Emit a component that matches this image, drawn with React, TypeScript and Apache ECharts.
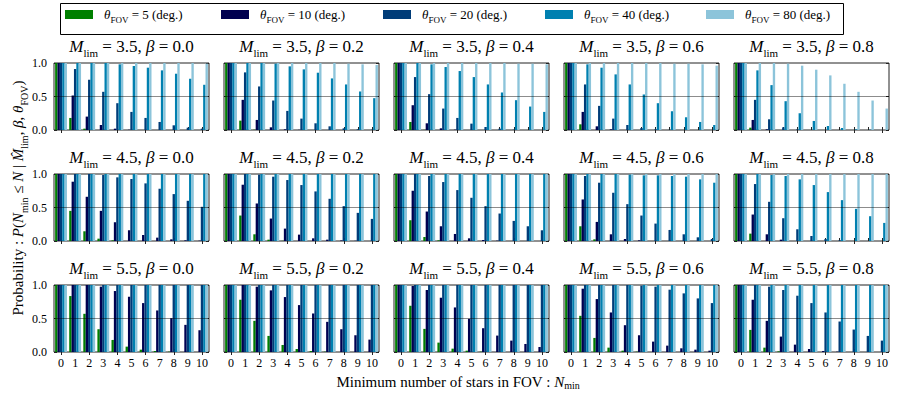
import React, { useEffect, useRef } from "react";
import * as echarts from "echarts";

const categories = ["0", "1", "2", "3", "4", "5", "6", "7", "8", "9", "10"];
const fovValues = [5, 10, 20, 40, 80];
const seriesNames = ["θFOV = 5 (deg.)", "θFOV = 10 (deg.)", "θFOV = 20 (deg.)", "θFOV = 40 (deg.)", "θFOV = 80 (deg.)"];
const seriesColors = ["#008000", "#000050", "#003c78", "#0080b0", "#8cc4da"];
const mLimValues = ["3.5", "4.5", "5.5"];
const betaValues = ["0.0", "0.2", "0.4", "0.6", "0.8"];
const yTickLabels = ["0.0", "0.5", "1.0"];

// rows: theta 5, 10, 20, 40, 80 ; columns: N_min 0..10
const m35b00 = [
  [1, 0.18, 0.02, 0, 0, 0, 0, 0, 0, 0, 0],
  [1, 0.515, 0.2, 0.075, 0.02, 0.005, 0, 0, 0, 0, 0],
  [1, 0.91, 0.75, 0.57, 0.4, 0.27, 0.18, 0.12, 0.07, 0.035, 0.02],
  [1, 1, 1, 1, 0.98, 0.955, 0.93, 0.89, 0.84, 0.765, 0.675],
  [1, 1, 1, 1, 1, 1, 1, 1, 1, 1, 0.99],
];
const m35b02 = [
  [1, 0.14, 0.005, 0, 0, 0, 0, 0, 0, 0, 0],
  [1, 0.45, 0.15, 0.04, 0.01, 0.003, 0, 0, 0, 0, 0],
  [1, 0.86, 0.65, 0.44, 0.285, 0.17, 0.1, 0.055, 0.025, 0.01, 0.005],
  [1, 1, 1, 0.99, 0.95, 0.905, 0.855, 0.77, 0.68, 0.575, 0.475],
  [1, 1, 1, 1, 1, 1, 1, 1, 0.99, 0.98, 0.97],
];
const m35b04 = [
  [1, 0.12, 0.003, 0, 0, 0, 0, 0, 0, 0, 0],
  [1, 0.37, 0.1, 0.025, 0.005, 0, 0, 0, 0, 0, 0],
  [1, 0.79, 0.535, 0.32, 0.18, 0.095, 0.045, 0.02, 0.005, 0, 0],
  [1, 1, 0.98, 0.94, 0.88, 0.79, 0.68, 0.56, 0.445, 0.35, 0.27],
  [1, 1, 1, 1, 1, 1, 1, 1, 0.99, 0.99, 0.98],
];
const m35b06 = [
  [1, 0.085, 0, 0, 0, 0, 0, 0, 0, 0, 0],
  [1, 0.27, 0.055, 0.01, 0, 0, 0, 0, 0, 0, 0],
  [1, 0.68, 0.36, 0.17, 0.075, 0.03, 0.01, 0.003, 0, 0, 0],
  [1, 0.98, 0.93, 0.83, 0.68, 0.53, 0.4, 0.28, 0.19, 0.12, 0.075],
  [1, 1, 1, 1, 1, 1, 1, 0.99, 0.99, 0.98, 0.96],
];
const m35b08 = [
  [1, 0.035, 0, 0, 0, 0, 0, 0, 0, 0, 0],
  [1, 0.15, 0.01, 0, 0, 0, 0, 0, 0, 0, 0],
  [1, 0.45, 0.16, 0.04, 0.008, 0, 0, 0, 0, 0, 0],
  [1, 0.89, 0.67, 0.43, 0.25, 0.135, 0.06, 0.03, 0.01, 0.005, 0],
  [1, 1, 1, 0.99, 0.96, 0.9, 0.815, 0.69, 0.57, 0.44, 0.32],
];
const m45b00 = [
  [1, 0.45, 0.145, 0.035, 0.01, 0, 0, 0, 0, 0, 0],
  [1, 0.885, 0.66, 0.45, 0.28, 0.16, 0.09, 0.05, 0.025, 0.01, 0.005],
  [1, 1, 1, 0.985, 0.95, 0.925, 0.86, 0.78, 0.7, 0.6, 0.51],
  [1, 1, 1, 1, 1, 1, 1, 1, 1, 1, 1],
  [1, 1, 1, 1, 1, 1, 1, 1, 1, 1, 1],
];
const m45b02 = [
  [1, 0.38, 0.1, 0.02, 0.003, 0, 0, 0, 0, 0, 0],
  [1, 0.84, 0.56, 0.335, 0.185, 0.095, 0.04, 0.02, 0.008, 0.003, 0],
  [1, 1, 0.99, 0.96, 0.91, 0.835, 0.74, 0.63, 0.52, 0.42, 0.33],
  [1, 1, 1, 1, 1, 1, 1, 1, 1, 1, 1],
  [1, 1, 1, 1, 1, 1, 1, 1, 1, 1, 1],
];
const m45b04 = [
  [1, 0.31, 0.06, 0.01, 0, 0, 0, 0, 0, 0, 0],
  [1, 0.75, 0.44, 0.22, 0.105, 0.04, 0.015, 0.005, 0, 0, 0],
  [1, 1, 0.97, 0.88, 0.76, 0.645, 0.52, 0.41, 0.3, 0.22, 0.16],
  [1, 1, 1, 1, 1, 1, 1, 1, 1, 1, 1],
  [1, 1, 1, 1, 1, 1, 1, 1, 1, 1, 1],
];
const m45b06 = [
  [1, 0.22, 0.025, 0, 0, 0, 0, 0, 0, 0, 0],
  [1, 0.62, 0.285, 0.1, 0.03, 0.01, 0, 0, 0, 0, 0],
  [1, 0.97, 0.87, 0.72, 0.55, 0.38, 0.26, 0.165, 0.1, 0.055, 0.03],
  [1, 1, 1, 1, 0.99, 0.98, 0.98, 0.97, 0.96, 0.92, 0.87],
  [1, 1, 1, 1, 1, 1, 1, 1, 1, 1, 1],
];
const m45b08 = [
  [1, 0.11, 0, 0, 0, 0, 0, 0, 0, 0, 0],
  [1, 0.395, 0.1, 0.02, 0, 0, 0, 0, 0, 0, 0],
  [1, 0.85, 0.585, 0.34, 0.175, 0.075, 0.03, 0.01, 0, 0, 0],
  [1, 1, 0.985, 0.97, 0.92, 0.835, 0.73, 0.61, 0.48, 0.37, 0.27],
  [1, 1, 1, 1, 1, 1, 1, 1, 1, 1, 1],
];
const m55b00 = [
  [1, 0.835, 0.57, 0.34, 0.18, 0.08, 0.035, 0.015, 0.005, 0, 0],
  [1, 1, 1, 0.975, 0.91, 0.825, 0.73, 0.62, 0.505, 0.405, 0.325],
  [1, 1, 1, 1, 1, 1, 1, 1, 1, 1, 1],
  [1, 1, 1, 1, 1, 1, 1, 1, 1, 1, 1],
  [1, 1, 1, 1, 1, 1, 1, 1, 1, 1, 1],
];
const m55b02 = [
  [1, 0.78, 0.465, 0.24, 0.105, 0.045, 0.015, 0.005, 0, 0, 0],
  [1, 1, 0.975, 0.92, 0.82, 0.7, 0.575, 0.45, 0.34, 0.25, 0.185],
  [1, 1, 1, 1, 1, 1, 1, 1, 1, 1, 1],
  [1, 1, 1, 1, 1, 1, 1, 1, 1, 1, 1],
  [1, 1, 1, 1, 1, 1, 1, 1, 1, 1, 1],
];
const m55b04 = [
  [1, 0.69, 0.345, 0.14, 0.05, 0.02, 0.005, 0, 0, 0, 0],
  [1, 0.985, 0.925, 0.81, 0.665, 0.495, 0.355, 0.245, 0.17, 0.12, 0.075],
  [1, 1, 1, 1, 1, 1, 1, 1, 1, 1, 1],
  [1, 1, 1, 1, 1, 1, 1, 1, 1, 1, 1],
  [1, 1, 1, 1, 1, 1, 1, 1, 1, 1, 1],
];
const m55b06 = [
  [1, 0.54, 0.21, 0.065, 0.02, 0.005, 0, 0, 0, 0, 0],
  [1, 0.945, 0.79, 0.59, 0.4, 0.25, 0.155, 0.095, 0.055, 0.035, 0.02],
  [1, 1, 1, 1, 1, 0.99, 0.975, 0.93, 0.875, 0.8, 0.73],
  [1, 1, 1, 1, 1, 1, 1, 1, 1, 1, 1],
  [1, 1, 1, 1, 1, 1, 1, 1, 1, 1, 1],
];
const m55b08 = [
  [1, 0.33, 0.065, 0.01, 0, 0, 0, 0, 0, 0, 0],
  [1, 0.78, 0.465, 0.23, 0.11, 0.045, 0.015, 0.005, 0, 0, 0],
  [1, 1, 0.975, 0.925, 0.84, 0.73, 0.59, 0.455, 0.335, 0.24, 0.17],
  [1, 1, 1, 1, 1, 1, 1, 1, 1, 1, 1],
  [1, 1, 1, 1, 1, 1, 1, 1, 1, 1, 1],
];

const panelData = [
  [m35b00, m35b02, m35b04, m35b06, m35b08],
  [m45b00, m45b02, m45b04, m45b06, m45b08],
  [m55b00, m55b02, m55b04, m55b06, m55b08],
];

const SERIF = "'Liberation Serif', 'DejaVu Serif', 'Times New Roman', serif";
const GRID_LEFT = [54, 224, 394, 564, 734];
const GRID_TOP = [63, 174, 285];
const GRID_W = 155;
const GRID_H = 67;
const LEGEND_LEFT = [65, 221, 383, 545, 706];
const FRAME = "#222";

function buildOption() {
  const grid: any[] = [];
  const xAxis: any[] = [];
  const yAxis: any[] = [];
  const series: any[] = [];
  const graphic: any[] = [];

  const mathRich = (size: number, subSize: number, lh: number) => ({
    r: { fontFamily: SERIF, fontWeight: "normal", fontSize: size, lineHeight: lh, verticalAlign: "middle", color: "#000" },
    i: { fontFamily: SERIF, fontWeight: "normal", fontStyle: "italic", fontSize: size, lineHeight: lh, verticalAlign: "middle", color: "#000" },
    s: { fontFamily: SERIF, fontWeight: "normal", fontSize: subSize, lineHeight: subSize + 1, verticalAlign: "bottom", color: "#000" },
  });

  for (let r = 0; r < 3; r++) {
    for (let c = 0; c < 5; c++) {
      const gi = r * 5 + c;
      grid.push({
        left: GRID_LEFT[c], top: GRID_TOP[r], width: GRID_W, height: GRID_H,
        show: true, borderColor: FRAME, borderWidth: 1, backgroundColor: "transparent",
        containLabel: false, outerBoundsMode: "none",
      });
      xAxis.push({
        type: "category", gridIndex: gi, data: categories, position: "bottom",
        axisLine: { show: false },
        axisTick: { show: true, inside: true, length: 3, alignWithLabel: true, lineStyle: { color: FRAME } },
        axisLabel: { show: r === 2, fontFamily: SERIF, fontSize: 12, lineHeight: 12, color: "#000", margin: 5, interval: 0 },
        splitLine: { show: false },
      });
      xAxis.push({
        type: "category", gridIndex: gi, data: categories, position: "top",
        axisLine: { show: false },
        axisTick: { show: true, inside: true, length: 3, alignWithLabel: true, lineStyle: { color: FRAME } },
        axisLabel: { show: false }, splitLine: { show: false },
      });
      yAxis.push({
        type: "value", gridIndex: gi, min: 0, max: 1, interval: 0.5, position: "left",
        axisLine: { show: false },
        axisTick: { show: true, inside: true, length: 3, lineStyle: { color: FRAME } },
        axisLabel: {
          show: c === 0, fontFamily: SERIF, fontSize: 12, color: "#000", margin: 7,
          formatter: (v: number) => yTickLabels[Math.round(v * 2)],
        },
        splitLine: { show: false },
      });
      yAxis.push({
        type: "value", gridIndex: gi, min: 0, max: 1, interval: 0.5, position: "right",
        axisLine: { show: false },
        axisTick: { show: true, inside: true, length: 3, lineStyle: { color: FRAME } },
        axisLabel: { show: false }, splitLine: { show: false },
      });
      const data = panelData[r][c];
      for (let s = 0; s < 5; s++) {
        const ser: any = {
          type: "bar", name: seriesNames[s], xAxisIndex: gi * 2, yAxisIndex: gi * 2,
          data: data[s], barGap: "0%", barCategoryGap: "16%",
          itemStyle: { color: seriesColors[s] }, emphasis: { disabled: true }, silent: true,
        };
        if (s === 4) {
          ser.markLine = {
            silent: true, symbol: "none", label: { show: false },
            lineStyle: { color: "rgba(0,0,0,0.45)", width: 1, type: "solid" },
            data: [{ yAxis: 0.5 }],
          };
        }
        series.push(ser);
      }
      graphic.push({
        type: "text", x: GRID_LEFT[c] + GRID_W / 2, y: GRID_TOP[r] - 5,
        style: {
          text: `{i|M}{s|lim}{r| = ${mLimValues[r]}, }{i|β}{r| = ${betaValues[c]}}`,
          rich: mathRich(17, 11, 24), align: "center", verticalAlign: "bottom", fill: "#000",
          fontWeight: "normal",
        },
        silent: true,
      });
    }
  }

  // y-axis title
  graphic.push({
    type: "text", x: 18, y: 198, rotation: Math.PI / 2,
    style: {
      text: "{r|Probability : }{i|P}{r|(}{i|N}{s|min}{r| ≤ }{i|N}{r| | }{i|M̂}{s|lim}{r|, }{i|β}{r|, }{i|θ}{s|FOV}{r|)}",
      rich: mathRich(15, 10, 22), align: "center", verticalAlign: "middle", fill: "#000",
      fontWeight: "normal",
    },
    silent: true,
  });
  // x-axis title
  graphic.push({
    type: "text", x: 458, y: 382,
    style: {
      text: "{r|Minimum number of stars in FOV : }{i|N}{s|min}",
      rich: mathRich(15, 10, 16), align: "center", verticalAlign: "middle", fill: "#000",
      fontWeight: "normal",
    },
    silent: true,
  });
  // legend frame
  graphic.push({
    type: "rect", shape: { x: 60.5, y: 3.5, width: 783, height: 31 },
    style: { fill: "none", stroke: "#000", lineWidth: 1 }, silent: true, z: 0,
  });

  const legend = seriesNames.map((name, k) => ({
    data: [name], left: LEGEND_LEFT[k], top: 8, padding: 0,
    itemWidth: 28, itemHeight: 9, icon: "rect", selectedMode: false,
    formatter: () => `{i|θ}{s|FOV}{r| = ${fovValues[k]} (deg.)}`,
    textStyle: {
      color: "#000", fontFamily: SERIF, fontSize: 13,
      rich: {
        i: { fontFamily: SERIF, fontStyle: "italic", fontSize: 13, lineHeight: 20, verticalAlign: "middle", padding: [0, 0, 0, 6] },
        s: { fontFamily: SERIF, fontSize: 9, lineHeight: 10, verticalAlign: "bottom" },
        r: { fontFamily: SERIF, fontSize: 13, lineHeight: 20, verticalAlign: "middle" },
      },
    },
  }));

  return {
    animation: false,
    backgroundColor: "#fff",
    legend,
    grid,
    xAxis,
    yAxis,
    series,
    graphic,
  };
}

export default function App() {
  const ref = useRef<HTMLDivElement>(null);
  useEffect(() => {
    if (!ref.current) return;
    const chart = echarts.init(ref.current, undefined, { renderer: "svg" });
    chart.setOption(buildOption() as any);
    return () => chart.dispose();
  }, []);
  return (
    <div
      ref={ref}
      style={{ position: "fixed", left: 0, top: 0, width: 899, height: 399, background: "#fff" }}
    />
  );
}
